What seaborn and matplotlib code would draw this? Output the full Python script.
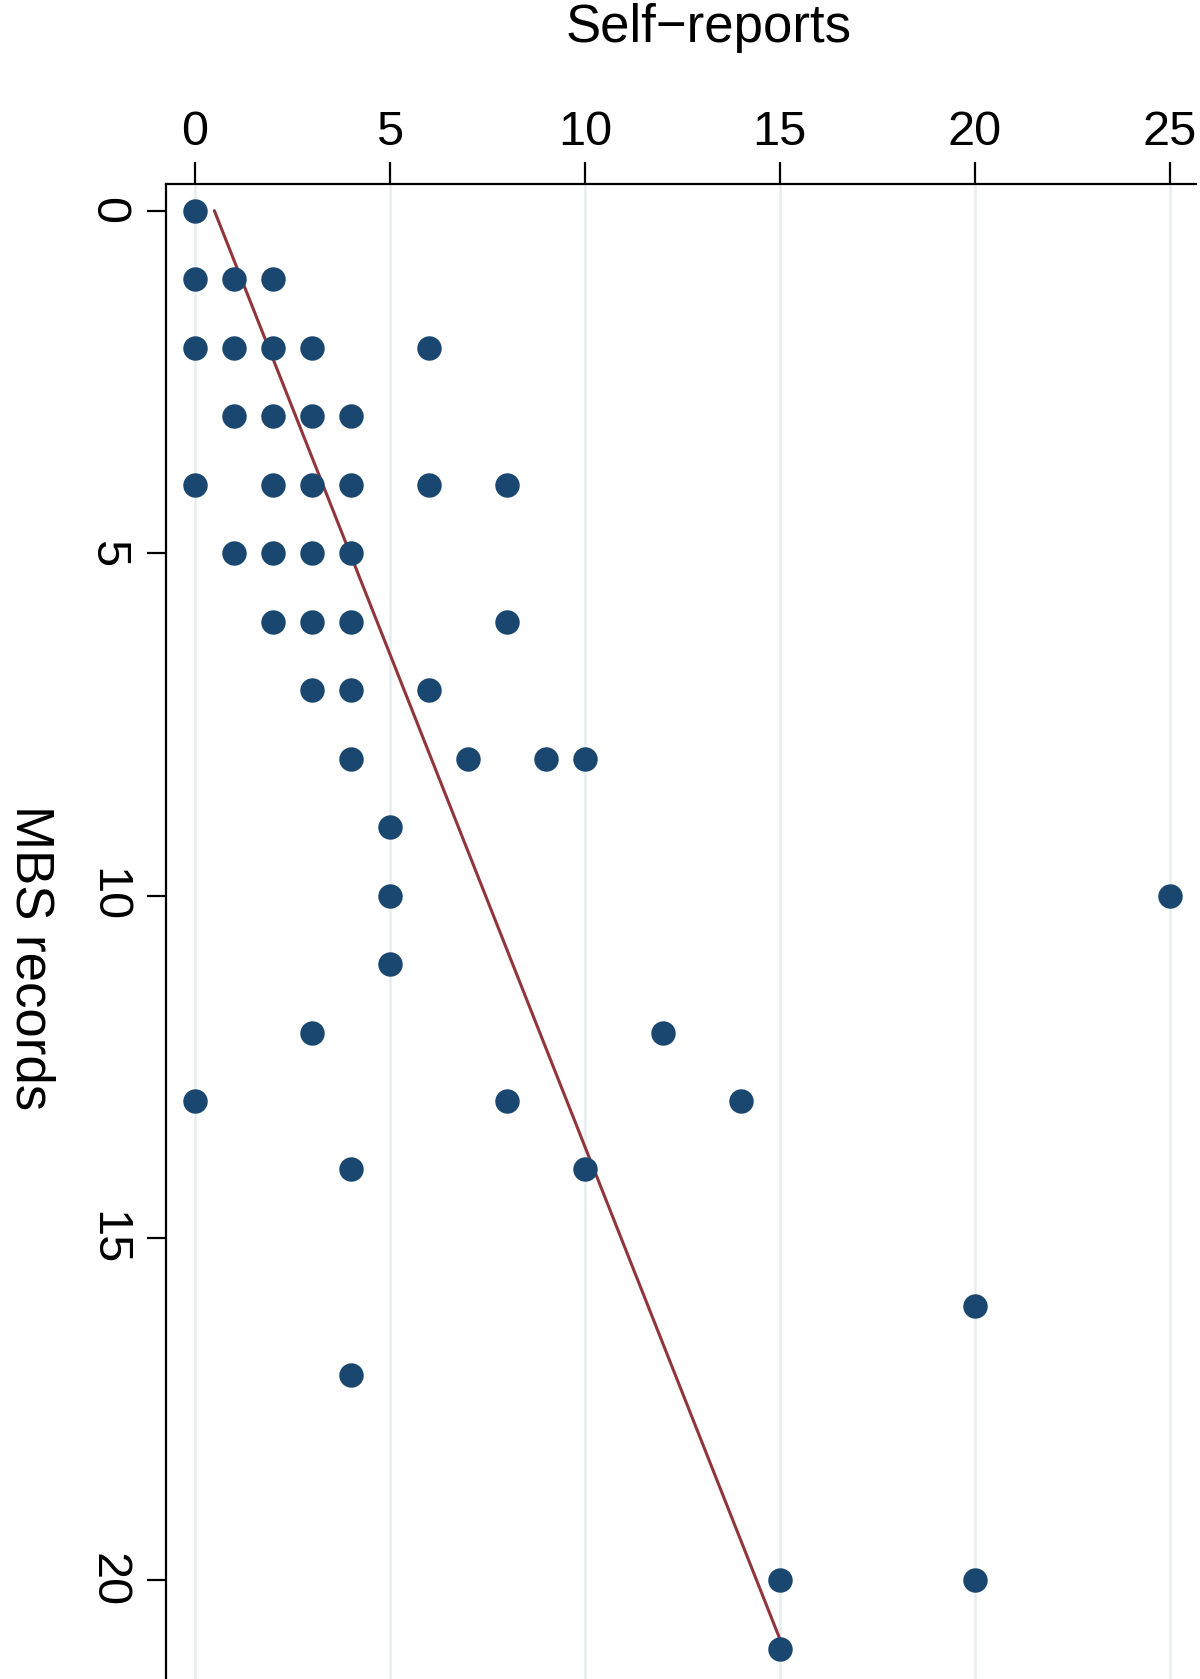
import numpy as np
import pandas as pd
import matplotlib
matplotlib.use("Agg")
import matplotlib.pyplot as plt
import seaborn as sns

# Data: MBS records (vertical axis) vs Self-reports (horizontal axis)
mbs_records = [0,
               1, 1, 1,
               2, 2, 2, 2, 2,
               3, 3, 3, 3,
               4, 4, 4, 4, 4, 4,
               5, 5, 5, 5,
               6, 6, 6, 6,
               7, 7, 7,
               8, 8, 8, 8,
               9,
               10, 10,
               11,
               12, 12,
               13, 13, 13,
               14, 14,
               16,
               17,
               20, 20,
               21]
self_reports = [0,
                0, 1, 2,
                0, 1, 2, 3, 6,
                1, 2, 3, 4,
                0, 2, 3, 4, 6, 8,
                1, 2, 3, 4,
                2, 3, 4, 8,
                3, 4, 6,
                4, 7, 9, 10,
                5,
                5, 25,
                5,
                3, 12,
                0, 8, 14,
                4, 10,
                20,
                4,
                15, 20,
                15]
fit_mbs = [0, 21]
fit_self = [0.5, 15.1]

x_ticks = [0, 5, 10, 15, 20, 25]
y_ticks = [0, 5, 10, 15, 20]

df = pd.DataFrame({"mbs": mbs_records, "self": self_reports})
fit = pd.DataFrame({"mbs": fit_mbs, "self": fit_self})

sns.set_theme(style="white")
plt.rcParams['font.family'] = ['Liberation Sans', 'DejaVu Sans']
plt.rcParams['text.color'] = 'black'

W, H, DPI = 1200, 1679, 100
fig = plt.figure(figsize=(W / DPI, H / DPI), dpi=DPI)
ax = fig.add_axes([166 / W, 0.0, (1196 - 166) / W, 1 - 184 / H])

navy = "#1a476f"
maroon = "#90353b"
grid_c = "#e6eef1"

for xv in x_ticks:
    ax.axvline(xv, color=grid_c, lw=1.8, zorder=0)

sns.lineplot(data=fit, x="self", y="mbs", ax=ax, color=maroon, lw=2.2,
             sort=False, estimator=None, zorder=2)
sns.scatterplot(data=df, x="self", y="mbs", ax=ax, color=navy, s=310,
                linewidth=0, zorder=3)

ax.set_xlim(-0.74, 25.67)
ax.set_ylim(21.44, -0.39)

ax.xaxis.tick_top()
ax.xaxis.set_label_position('top')
ax.set_xticks(x_ticks)
ax.set_yticks(y_ticks)
ax.set_xticklabels([str(v) for v in x_ticks], fontsize=35)
ax.set_yticklabels([str(v) for v in y_ticks], fontsize=35, rotation=-90,
                   va='center', ha='center')
ax.tick_params(axis='x', which='both', direction='out', length=16, width=1.6,
               pad=5, colors='black', labelcolor='black', top=True, bottom=False)
ax.tick_params(axis='y', which='both', direction='out', length=14, width=1.6,
               pad=28, colors='black', labelcolor='black', left=True)

for side in ['right', 'bottom']:
    ax.spines[side].set_visible(False)
for side in ['left', 'top']:
    ax.spines[side].set_visible(True)
    ax.spines[side].set_color('black')
    ax.spines[side].set_linewidth(1.6)

ax.set_xlabel("")
ax.set_ylabel("")
fig.text(709 / W, 1 - 28 / H, "Self\u2212reports", fontsize=38, ha='center', va='center',
         color='black')
fig.text(30 / W, 1 - 958 / H, "MBS records", fontsize=38, ha='center', va='center',
         rotation=-90, color='black')

fig.savefig("out.png", dpi=DPI, facecolor='white')
